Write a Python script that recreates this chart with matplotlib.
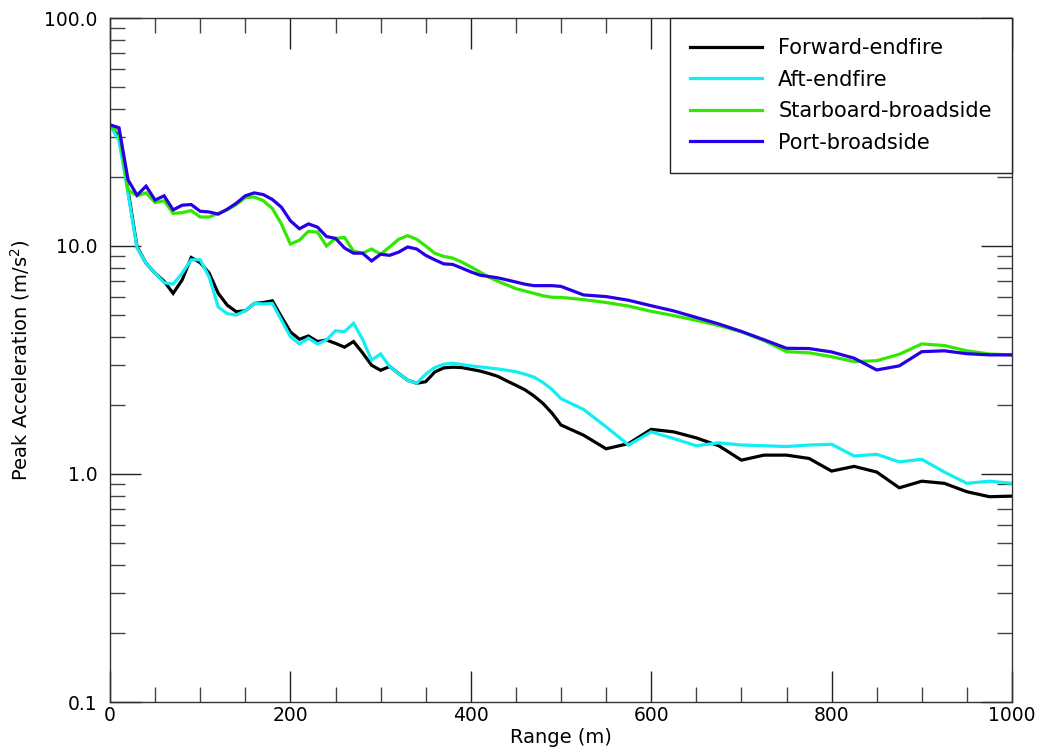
import matplotlib
matplotlib.use("Agg")
import matplotlib.pyplot as plt
from matplotlib.ticker import MultipleLocator, FixedLocator, FixedFormatter, LogLocator, NullFormatter

plt.rcParams['font.family'] = ['DejaVu Sans']

# Range samples (m): every 10 m out to 500 m, then every 25 m
range_m = list(range(0, 501, 10)) + list(range(525, 1001, 25))

forward_endfire = [
    34, 31, 17.5, 9.9, 8.4, 7.6, 7.0, 6.2, 7.1, 8.9,
    8.45, 7.6, 6.2, 5.5, 5.15, 5.2, 5.6, 5.65, 5.75, 4.9,
    4.2, 3.9, 4.03, 3.81, 3.87, 3.74, 3.6, 3.81, 3.4, 3.0,
    2.85, 2.96, 2.76, 2.58, 2.5, 2.54, 2.8, 2.92, 2.94, 2.93,
    2.88, 2.83, 2.76, 2.68, 2.56, 2.45, 2.34, 2.2, 2.04, 1.85,
    1.64,
    1.48, 1.29, 1.36, 1.57, 1.53, 1.44, 1.33, 1.15, 1.21, 1.21,
    1.17, 1.03, 1.08, 1.02, 0.87, 0.93, 0.91, 0.836, 0.795, 0.80,
]

aft_endfire = [
    34, 29, 17, 9.8, 8.4, 7.6, 6.9, 6.8, 7.6, 8.7,
    8.7, 7.3, 5.4, 5.05, 4.98, 5.2, 5.6, 5.57, 5.6, 4.74,
    4.0, 3.72, 3.94, 3.72, 3.87, 4.25, 4.21, 4.58, 3.9, 3.16,
    3.36, 2.96, 2.76, 2.58, 2.5, 2.74, 2.93, 3.03, 3.06, 3.02,
    2.98, 2.95, 2.92, 2.89, 2.85, 2.81, 2.74, 2.66, 2.52, 2.35,
    2.14,
    1.92, 1.61, 1.34, 1.53, 1.43, 1.33, 1.37, 1.34, 1.33, 1.32,
    1.34, 1.35, 1.20, 1.22, 1.13, 1.16, 1.02, 0.91, 0.93, 0.91,
]

starboard_broadside = [
    33.3, 31.7, 17.6, 16.6, 17.1, 15.5, 15.8, 13.9, 14.0, 14.3,
    13.4, 13.4, 13.9, 14.4, 15.2, 16.3, 16.4, 15.8, 14.6, 12.5,
    10.2, 10.6, 11.6, 11.5, 10.0, 10.8, 10.9, 9.5, 9.3, 9.7,
    9.2, 9.9, 10.7, 11.1, 10.7, 10.0, 9.3, 9.0, 8.85, 8.5,
    8.1, 7.7, 7.3, 7.0, 6.75, 6.5, 6.35, 6.2, 6.05, 5.96,
    5.95,
    5.82, 5.65, 5.45, 5.17, 4.95, 4.72, 4.48, 4.2, 3.85, 3.44,
    3.40, 3.27, 3.11, 3.14, 3.35, 3.72, 3.66, 3.47, 3.36, 3.33,
]

port_broadside = [
    34, 33, 19.5, 16.7, 18.3, 15.9, 16.6, 14.4, 15.1, 15.2,
    14.2, 14.1, 13.8, 14.5, 15.4, 16.6, 17.1, 16.8, 16.0, 14.8,
    12.9, 11.9, 12.5, 12.1, 11.0, 10.8, 9.8, 9.3, 9.3, 8.6,
    9.2, 9.1, 9.4, 9.9, 9.7, 9.1, 8.7, 8.35, 8.3, 8.0,
    7.7, 7.45, 7.35, 7.25, 7.1, 6.95, 6.8, 6.7, 6.7, 6.7,
    6.65,
    6.1, 6.0, 5.78, 5.47, 5.19, 4.86, 4.55, 4.22, 3.88, 3.56,
    3.55, 3.43, 3.22, 2.86, 2.98, 3.44, 3.47, 3.37, 3.33, 3.33,
]

series_labels = ["Forward-endfire", "Aft-endfire", "Starboard-broadside", "Port-broadside"]
series_colors = ["#000000", "#12EEF4", "#33E800", "#2800E6"]

x_ticks = [0, 200, 400, 600, 800, 1000]
y_ticks = [0.1, 1.0, 10.0, 100.0]
y_tick_labels = ["0.1", "1.0", "10.0", "100.0"]

fig = plt.figure(figsize=(10.40, 7.53), dpi=100)
ax = fig.add_axes([110 / 1040, 1 - 702 / 753, 902 / 1040, 684 / 753])

for vals, lab, col in zip(
    [forward_endfire, aft_endfire, starboard_broadside, port_broadside],
    series_labels, series_colors,
):
    ax.plot(range_m, vals, color=col, lw=2.3, label=lab, solid_joinstyle='miter')

ax.set_yscale('log')
ax.set_xlim(0, 1000)
ax.set_ylim(0.1, 100)

ax.xaxis.set_major_locator(FixedLocator(x_ticks))
ax.xaxis.set_minor_locator(MultipleLocator(50))
ax.yaxis.set_major_locator(FixedLocator(y_ticks))
ax.yaxis.set_major_formatter(FixedFormatter(y_tick_labels))
ax.yaxis.set_minor_locator(LogLocator(base=10, subs=range(2, 10)))
ax.yaxis.set_minor_formatter(NullFormatter())

ax.tick_params(axis='both', which='major', direction='in', length=22, width=1.0,
               top=True, right=True, labelsize=13.5, color='#222222')
ax.tick_params(axis='both', which='minor', direction='in', length=11, width=1.0,
               top=True, right=True, color='#444444')
ax.tick_params(axis='x', which='major', pad=3)
ax.tick_params(axis='y', which='major', pad=9)

for sp in ax.spines.values():
    sp.set_linewidth(1.0)
    sp.set_color('#333333')

ax.set_xlabel("Range (m)", fontsize=14, labelpad=2)
ax.set_ylabel("Peak Acceleration (m/s$^2$)", fontsize=14, labelpad=9)

leg = ax.legend(loc='upper right', prop={'size': 15}, frameon=True, fancybox=False,
                borderaxespad=0, handlelength=3.45, handletextpad=0.8,
                labelspacing=0.55, borderpad=0.97)
leg.get_frame().set_edgecolor('#222222')
leg.get_frame().set_linewidth(1.0)
leg.get_frame().set_alpha(1)

fig.savefig("out.png", dpi=100)
